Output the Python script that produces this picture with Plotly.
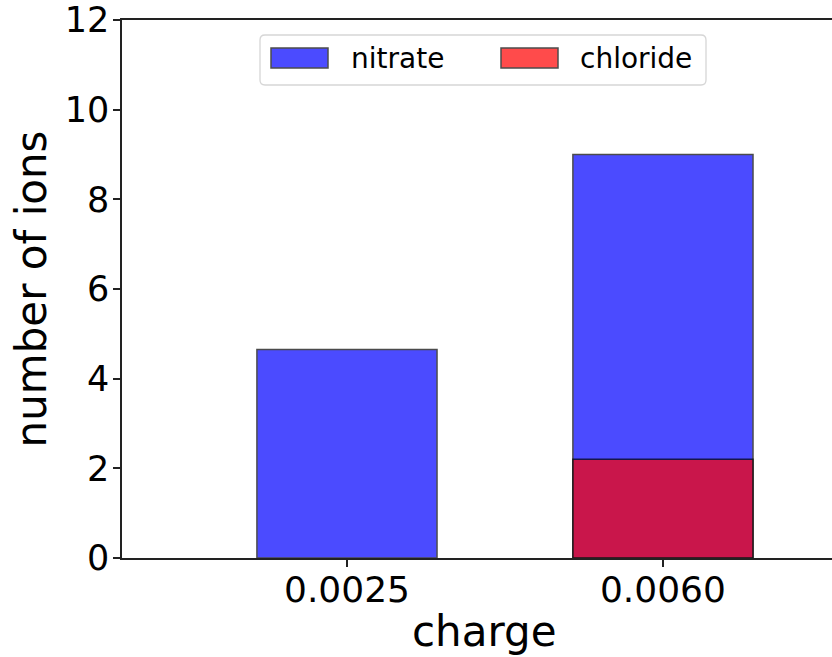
import plotly.graph_objects as go

charges = ["0.0025", "0.0060"]
nitrate = [4.65, 9.0]
chloride = [None, 2.2]
series_names = ["nitrate", "chloride"]
series_colors = ["blue", "red"]
y_ticks = [0, 2, 4, 6, 8, 10, 12]
x_title = "charge"
y_title = "number of ions"

FONT = "DejaVu Sans"
OPA = 0.7
EDGE = "black"

fig = go.Figure()
for name, vals, col in zip(series_names, [nitrate, chloride], series_colors):
    fig.add_trace(go.Bar(
        x=charges, y=vals, name=name, width=0.57,
        marker=dict(color=col, opacity=OPA, line=dict(color=EDGE, width=1.5)),
        showlegend=False,
    ))

# plot-area pixel box
L, R, T, B = 122, 832, 20, 558
W, H = R - L, B - T
def px(x):
    return (x - L) / W
def py(y):
    return (B - y) / H

shapes = []
annotations = []
# matplotlib-style legend frame with rounded corners
x0, x1, y0, y1, r = 260, 706, 35, 85, 5
path = (f"M {px(x0+r)},{py(y0)} L {px(x1-r)},{py(y0)} Q {px(x1)},{py(y0)} {px(x1)},{py(y0+r)} "
        f"L {px(x1)},{py(y1-r)} Q {px(x1)},{py(y1)} {px(x1-r)},{py(y1)} "
        f"L {px(x0+r)},{py(y1)} Q {px(x0)},{py(y1)} {px(x0)},{py(y1-r)} "
        f"L {px(x0)},{py(y0+r)} Q {px(x0)},{py(y0)} {px(x0+r)},{py(y0)} Z")
shapes.append(dict(type="path", xref="paper", yref="paper", path=path,
                   fillcolor="rgba(255,255,255,0.8)", line=dict(color="#d6d6d6", width=1.3)))
sw_x = [271, 501]
tx_x = [349, 578]
for name, col, sx, tx in zip(series_names, series_colors, sw_x, tx_x):
    shapes.append(dict(type="rect", xref="paper", yref="paper",
                       x0=px(sx), x1=px(sx + 57), y0=py(68), y1=py(48),
                       fillcolor=col, opacity=OPA, line=dict(color=EDGE, width=1.5)))
    annotations.append(dict(text=name, xref="paper", yref="paper", x=px(tx), y=py(58),
                            xanchor="left", yanchor="middle", showarrow=False,
                            font=dict(family=FONT, size=28, color="black")))

# x-axis title (placed to match the reference, slightly right of plot centre)
annotations.append(dict(text=x_title, xref="paper", yref="paper", x=px(483.5), y=py(631),
                        xanchor="center", yanchor="middle", showarrow=False,
                        font=dict(family=FONT, size=42, color="black")))

fig.update_layout(
    width=832, height=657,
    margin=dict(l=L, r=832 - R, t=T, b=657 - B),
    paper_bgcolor="white", plot_bgcolor="white",
    barmode="overlay",
    font=dict(family=FONT, color="black"),
    shapes=shapes, annotations=annotations,
    xaxis=dict(
        range=[-0.712, 1.535], showgrid=False, zeroline=False,
        showline=True, linecolor="#222", linewidth=1.5, mirror=True,
        ticks="outside", ticklen=7, tickwidth=1.5, tickcolor="#222",
        tickfont=dict(family=FONT, size=36, color="black"),
        ticklabelstandoff=-8,
    ),
    yaxis=dict(
        range=[0, 12], tickvals=y_ticks, showgrid=False, zeroline=False,
        showline=True, linecolor="#222", linewidth=1.5,
        ticks="outside", ticklen=7, tickwidth=1.5, tickcolor="#222",
        tickfont=dict(family=FONT, size=35, color="black"),
        ticklabelstandoff=-3,
        title=dict(text=y_title, font=dict(family=FONT, size=42, color="black"), standoff=5),
    ),
)

fig.write_html("out.html")
